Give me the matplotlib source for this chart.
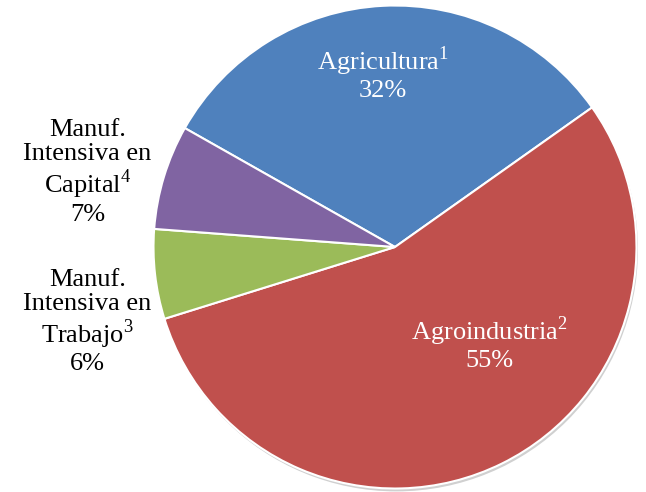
import matplotlib
matplotlib.use("Agg")
import matplotlib.pyplot as plt
from matplotlib.patches import Circle

# sector shares (%), clockwise from Agricultura
sectors = ["Agricultura", "Agroindustria", "Manuf. Intensiva en Trabajo", "Manuf. Intensiva en Capital"]
shares = [32, 55, 6, 7]
label_texts = [
    "Agricultura$^{\\mathrm{1}}$\n32%",
    "Agroindustria$^{\\mathrm{2}}$\n55%",
    "Manuf.\nIntensiva en\nTrabajo$^{\\mathrm{3}}$\n6%",
    "Manuf.\nIntensiva en\nCapital$^{\\mathrm{4}}$\n7%",
]
colors = ["#4F81BD", "#C0504D", "#9BBB59", "#8064A2"]
text_colors = ["white", "white", "black", "black"]

plt.rcParams["font.family"] = ["Liberation Serif", "DejaVu Serif"]
plt.rcParams["mathtext.fontset"] = "custom"
plt.rcParams["mathtext.rm"] = "Liberation Serif"

fig = plt.figure(figsize=(6.46, 4.92), dpi=100)
ax = fig.add_axes([0.2376, 0.0071, 0.7477, 0.9817])

# faint drop shadow behind the pie
ax.add_patch(Circle((0.006, -0.012), 1.0, facecolor="#d0d0d0", edgecolor="none",
                    zorder=0, clip_on=False))
ax.pie(shares, colors=colors, startangle=150.5, counterclock=False,
       wedgeprops=dict(edgecolor="white", linewidth=1.5, clip_on=False))
ax.set_xlim(-1.0, 1.0)
ax.set_ylim(-1.0, 1.0)
ax.set_aspect("equal")
ax.axis("off")

# label positions in data units (pie radius = 1)
label_pos = [(-0.05, 0.72), (0.39, -0.40), (-1.273, -0.31), (-1.273, 0.31)]
for txt, (x, y), c in zip(label_texts, label_pos, text_colors):
    ax.text(x, y, txt, ha="center", va="center", fontsize=19, color=c,
            linespacing=1.12, multialignment="center")

fig.savefig("out.png", dpi=100)
